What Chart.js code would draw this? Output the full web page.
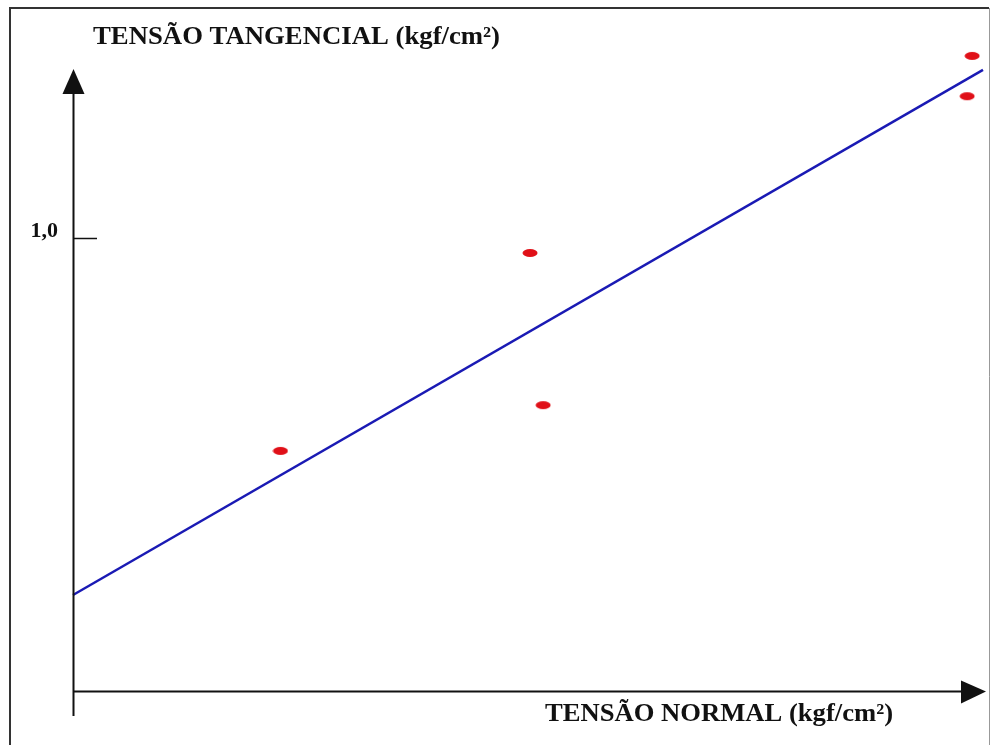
<!DOCTYPE html>
<html>
<head>
<meta charset="utf-8">
<script src="https://cdn.jsdelivr.net/npm/chart.js@4.4.0/dist/chart.umd.min.js"></script>
<style>
  html, body { margin: 0; padding: 0; background: #fff; }
</style>
</head>
<body>
<canvas id="chart1" width="991" height="745"></canvas>
<script>
// data (kgf/cm2)
const normalStress = [0.459, 1.011, 1.040, 1.989, 1.978];
const shearStress = [0.530, 0.967, 0.631, 1.402, 1.313];
// fitted line end points
const lineX = [0, 2.013];
const lineY = [0.212, 1.371];
const yTicks = [1.0];
const yTickLabels = ['1,0'];
const yTitle = 'TENSÃO TANGENCIAL (kgf/cm²)';
const xTitle = 'TENSÃO NORMAL (kgf/cm²)';

// red dot, a flat ellipse
const dot = document.createElement('canvas');
dot.width = 16; dot.height = 10;
const dctx = dot.getContext('2d');
dctx.fillStyle = '#e01018';
dctx.beginPath();
dctx.ellipse(8, 5, 7.5, 4, 0, 0, Math.PI * 2);
dctx.fill();

const axesPlugin = {
  id: 'axesPlugin',
  beforeDraw(chart) {
    const c = chart.ctx;
    c.save();
    c.fillStyle = '#fff';
    c.fillRect(0, 0, chart.width, chart.height);
    // frame
    c.strokeStyle = '#333';
    c.lineWidth = 2;
    c.beginPath();
    c.moveTo(10, 745); c.lineTo(10, 8); c.lineTo(989, 8);
    c.stroke();
    c.strokeStyle = '#999';
    c.lineWidth = 1;
    c.beginPath();
    c.moveTo(989.5, 8); c.lineTo(989.5, 745);
    c.stroke();
    c.restore();
  },
  afterDraw(chart) {
    const c = chart.ctx;
    const xs = chart.scales.x, ys = chart.scales.y;
    const x0 = Math.round(xs.getPixelForValue(0)) + 0.5;
    const y0 = Math.round(ys.getPixelForValue(0)) + 0.5;
    c.save();
    c.strokeStyle = '#111';
    c.fillStyle = '#111';
    c.lineWidth = 2;
    // y axis + arrow
    c.beginPath();
    c.moveTo(x0, 716); c.lineTo(x0, 92);
    c.stroke();
    c.beginPath();
    c.moveTo(x0, 69); c.lineTo(x0 + 11, 94); c.lineTo(x0 - 11, 94);
    c.closePath(); c.fill();
    // x axis + arrow
    c.beginPath();
    c.moveTo(x0, y0); c.lineTo(963, y0);
    c.stroke();
    c.beginPath();
    c.moveTo(986, y0); c.lineTo(961, y0 - 11); c.lineTo(961, y0 + 12);
    c.closePath(); c.fill();
    // ticks
    c.font = 'bold 22px "Liberation Serif", serif';
    c.textAlign = 'right';
    c.textBaseline = 'alphabetic';
    yTicks.forEach((v, i) => {
      const py = Math.round(ys.getPixelForValue(v)) + 0.5;
      c.lineWidth = 1.5;
      c.beginPath();
      c.moveTo(x0, py); c.lineTo(97, py);
      c.stroke();
      c.fillText(yTickLabels[i], 58, py - 2);
    });
    // titles
    c.textAlign = 'left';
    c.font = 'bold 25px "Liberation Serif", serif';
    const fitText = (txt, x, y, w) => {
      const m = c.measureText(txt).width;
      c.save();
      c.translate(x, y);
      c.scale(w / m, 1);
      c.fillText(txt, 0, 0);
      c.restore();
    };
    fitText(yTitle, 93, 44, 407);
    fitText(xTitle, 545, 721, 348);
    c.restore();
  }
};

const ctx = document.getElementById('chart1').getContext('2d');
const chart = new Chart(ctx, {
  type: 'scatter',
  data: {
    datasets: [
      {
        label: 'ajuste',
        type: 'line',
        data: lineX.map((x, i) => ({ x: x, y: lineY[i] })),
        borderColor: '#1a1ab4',
        borderWidth: 2.5,
        pointRadius: 0,
        fill: false
      },
      {
        label: 'ensaios',
        data: normalStress.map((x, i) => ({ x: x, y: shearStress[i] })),
        pointStyle: dot,
        pointRadius: 7
      }
    ]
  },
  plugins: [axesPlugin],
  options: {
    responsive: false,
    animation: false,
    devicePixelRatio: 1,
    clip: false,
    layout: { padding: { left: 73, right: 6, top: 11.5, bottom: 54 } },
    plugins: { legend: { display: false }, tooltip: { enabled: false } },
    scales: {
      x: { type: 'linear', min: 0, max: 2.013, display: false },
      y: { type: 'linear', min: 0, max: 1.5, display: false }
    }
  }
});
</script>
</body>
</html>
